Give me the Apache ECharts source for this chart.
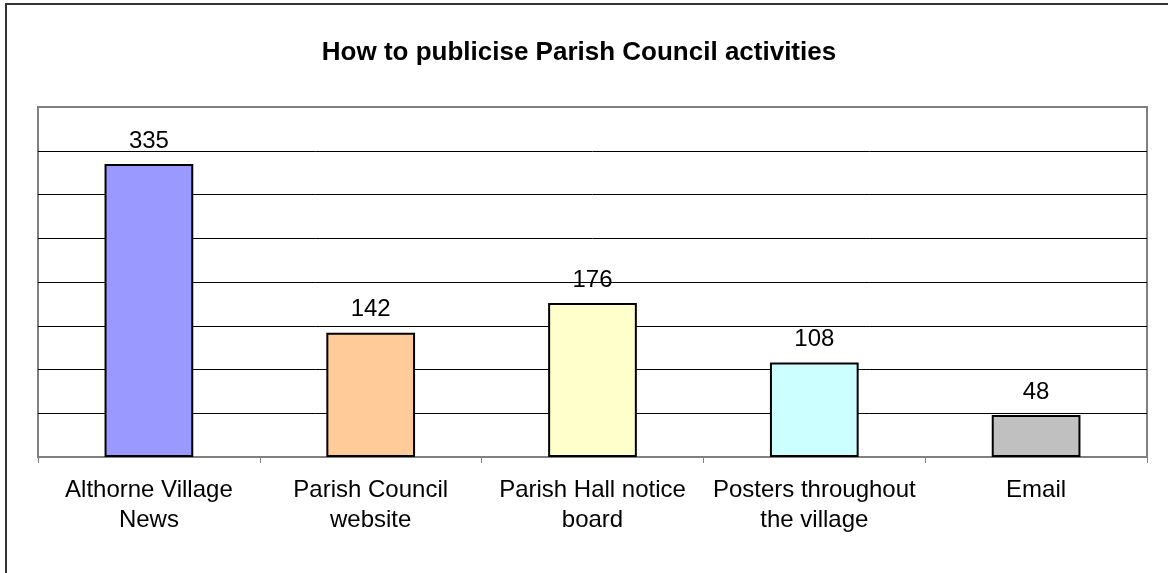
<!DOCTYPE html>
<html>
<head>
<meta charset="utf-8">
<script src="https://cdn.jsdelivr.net/npm/echarts@6/dist/echarts.min.js"></script>
<style>
html,body{margin:0;padding:0;background:#fff;}
#chart{width:1168px;height:573px;}
</style>
</head>
<body>
<div id="chart"></div>
<script>
const titleText = 'How to publicise Parish Council activities';
const categories = ['Althorne Village\nNews', 'Parish Council\nwebsite', 'Parish Hall notice\nboard', 'Posters throughout\nthe village', 'Email'];
const values = [335, 142, 176, 108, 48];
const barColors = ['#9999FF', '#FFCC99', '#FFFFCC', '#CCFFFF', '#C0C0C0'];
const yMin = 0, yMax = 400, yStep = 50;

const chart = echarts.init(document.getElementById('chart'));
const FONT = 'Liberation Sans, Arial, sans-serif';
chart.setOption({
  backgroundColor: '#ffffff',
  animation: false,
  title: {
    text: titleText,
    left: 574, top: 35, textAlign: 'center',
    textStyle: { fontFamily: FONT, fontSize: 26, fontWeight: 'bold', color: '#000' }
  },
  graphic: [
    { type: 'rect', shape: { x: 6, y: 4, width: 1400, height: 900 }, style: { fill: 'none', stroke: '#333', lineWidth: 2 }, silent: true }
  ],
  grid: { left: 38, right: 21, top: 107, bottom: 116, show: true, borderColor: '#808080', borderWidth: 2, backgroundColor: 'transparent' },
  xAxis: {
    type: 'category',
    data: categories,
    axisLine: { lineStyle: { color: '#808080', width: 2 } },
    axisTick: { show: true, alignWithLabel: false, length: 6, lineStyle: { color: '#808080', width: 1 } },
    axisLabel: { fontFamily: FONT, fontSize: 24, color: '#000', margin: 18, lineHeight: 30, interval: 0 }
  },
  yAxis: {
    type: 'value', min: yMin, max: yMax, interval: yStep,
    axisLine: { show: false }, axisTick: { show: false }, axisLabel: { show: false },
    splitLine: { showMinLine: false, showMaxLine: false, lineStyle: { color: '#000', width: 1 } }
  },
  series: [{
    type: 'bar',
    data: values.map((v, i) => ({ value: v, itemStyle: { color: barColors[i] } })),
    barWidth: '40%',
    itemStyle: { borderColor: '#000', borderWidth: 2 },
    label: { show: true, position: 'top', distance: 11, fontFamily: FONT, fontSize: 24, color: '#000' }
  }]
});
</script>
</body>
</html>
